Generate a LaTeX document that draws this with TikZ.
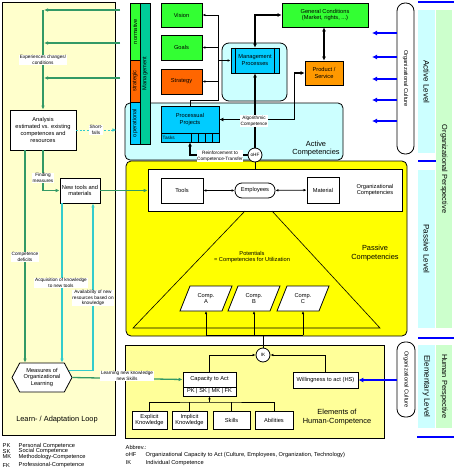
\documentclass[tikz,border=0pt]{standalone}
\usepackage{fontspec}
\setmainfont{Liberation Sans}
\usetikzlibrary{arrows.meta,shapes.symbols,positioning}

\definecolor{cpanel}{HTML}{FFFFCC}
\definecolor{cgreen}{HTML}{339966}
\definecolor{ccyan}{HTML}{33CCCC}
\definecolor{cnorm}{HTML}{33FF33}
\definecolor{corange}{HTML}{FF6600}
\definecolor{cprod}{HTML}{FF9900}
\definecolor{cteal}{HTML}{00CC99}
\definecolor{cblue}{HTML}{00CCFF}
\definecolor{clcyan}{HTML}{CCFFFF}
\definecolor{cyellow}{HTML}{FFFF00}
\definecolor{celem}{HTML}{FFFF99}
\definecolor{cstripg}{HTML}{CCFFCC}
\definecolor{cdeep}{HTML}{0000FF}

\newcommand\txtXS{\fontsize{4.7}{5.6}\selectfont}
\newcommand\txtS{\fontsize{5.7}{6.9}\selectfont}
\newcommand\txtM{\fontsize{7.4}{8.4}\selectfont}
\newcommand\txtL{\fontsize{8}{9}\selectfont}

\begin{document}
\begin{tikzpicture}[x=1pt, y=-1pt,
    every node/.style={font=\txtS, inner sep=0.5pt, align=center},
    box/.style={draw, line width=0.8pt, inner sep=0pt},
    lbl/.style={fill=white, inner sep=0.7pt, font=\txtXS},
    gline/.style={draw=cgreen, line width=1.3pt},
    garrow/.style={gline, -{Latex[length=4pt,width=3.6pt]}},
    carrow/.style={draw=ccyan, line width=1.3pt, -{Latex[length=4pt,width=3.6pt]}},
    tline/.style={line width=1.4pt},
    smalltip/.style={line width=0.8pt, -{Latex[length=3pt,width=2.6pt]}},
    bothtips/.style={{Latex[length=4pt,width=4pt]}-{Latex[length=4pt,width=4pt]}},
    barrow/.style={draw=cdeep, line width=1.6pt, -{Latex[length=5pt,width=5pt]}},
    uplabel/.style={rotate=90},
    downlabel/.style={rotate=-90}]
  \useasboundingbox (0,0) rectangle (454,471);
  \fill[white] (0,0) rectangle (454,471);

  % learn / adaptation loop
  \draw[fill=cpanel, line width=0.8pt] (2,2) rectangle (115,435);
  \node[font=\txtM] (loop) at (57,420) {Learn- / Adaptation Loop};

  % competence levels
  \draw[fill=clcyan, rounded corners=5pt, line width=0.8pt] (125,103) rectangle (343,160);
  \draw[fill=cyellow, rounded corners=5pt, line width=0.8pt] (126,161) rectangle (407,336);
  \draw[fill=celem, line width=0.8pt] (125,345) rectangle (384,438);
  \draw[fill=clcyan, rounded corners=7pt, line width=0.8pt] (222,43) rectangle (287,101);
  \node[font=\txtM] (activelbl) at (316,148.5) {Active\\Competencies};
  \node[font=\txtM] (passivelbl) at (375,253) {Passive\\Competencies};
  \node[font=\txtM] (elemlbl) at (337,417) {Elements of\\Human-Competence};

  % management bar
  \draw[fill=cnorm, line width=0.8pt] (130,3) rectangle (140,60);
  \draw[fill=corange, line width=0.8pt] (130,60) rectangle (140,102);
  \draw[fill=cblue, line width=0.8pt] (130,102) rectangle (140,144);
  \draw[fill=cteal, line width=0.8pt] (140,3) rectangle (150,144);
  \node[uplabel] (normative) at (135,31.5) {normative};
  \node[uplabel] (strategic) at (135,81) {strategic};
  \node[uplabel] (operational) at (135,123) {operational};
  \node[uplabel] (management) at (145,73.5) {Management};

  % active level
  \node[box, fill=cnorm, minimum width=41pt, minimum height=24pt] (vision) at (181.5,15) {Vision};
  \node[box, fill=cnorm, minimum width=41pt, minimum height=25pt] (goals) at (181.5,47.5) {Goals};
  \node[box, fill=corange, minimum width=41pt, minimum height=25pt] (strategy) at (181.5,81.5) {Strategy};
  \node[box, fill=cnorm, minimum width=86pt, minimum height=24pt] (gencond) at (325,15) {General Conditions\\(Market, rights, ...)};
  \node[box, fill=cprod, minimum width=38pt, minimum height=24pt] (product) at (324,73) {Product /\\Service};
  \node[box, fill=cblue, minimum width=48pt, minimum height=25pt] (mproc) at (255,60.5) {Management\\Processes};
  \draw[line width=0.8pt] ([xshift=5pt]mproc.north west) -- ([xshift=5pt]mproc.south west);
  \draw[line width=0.8pt] ([xshift=-5pt]mproc.north east) -- ([xshift=-5pt]mproc.south east);
  \node[box, fill=cblue, minimum width=58pt, minimum height=27pt] (projects) at (190,119.5) {Processual\\Projects};
  \node[box, fill=cblue, minimum width=58pt, minimum height=9pt] (tasks) at (190,137.5) {};
  \node[anchor=west, font=\txtXS] (taskslbl) at (162,137.5) {Tasks};
  \foreach \tx in {191,198,205,212}
    \draw[line width=0.8pt] (\tx,133) -- (\tx,142);
  \node[draw, circle, fill=white, line width=0.8pt, minimum size=14pt, inner sep=0pt, font=\txtXS] (ohf) at (255,155) {oHF};

  \coordinate (mbus) at (218,100);
  \draw[line width=0.8pt] (vision.east -| mbus) -- (mbus) -| (projects.north);
  \draw[smalltip] (vision.east -| mbus) -- (vision.east);
  \draw[smalltip] (goals.east -| mbus) -- (goals.east);
  \draw[smalltip] (strategy.east -| mbus) -- (strategy.east);
  \draw[smalltip] (mproc.west -| mbus) -- (mproc.west);

  \draw[tline, bothtips] (mproc.north) |- (gencond.west);
  \draw[tline, bothtips] (gencond.south -| product.north) -- (product.north);
  \draw[tline, bothtips] (projects.east) -| ([xshift=-10pt]product.west) -- (product.west);
  \draw[tline, -{Latex[length=4pt,width=4pt]}] (ohf.north) -- (mproc.south);
  \draw[tline, -{Latex[length=4pt,width=4pt]}] (ohf.west) -| (tasks.south);
  \node[lbl] (algolbl) at (254,121) {Algorithmic\\Competence};
  \node[lbl] (reinflbl) at (220,156) {Reinforcement to\\Competence-Transfer};

  % passive level
  \node[box, fill=white, minimum width=254pt, minimum height=42pt] (orgcomp) at (275,190) {};
  \node (orgcomplbl) at (375,190) {Organizational\\Competencies};
  \node[box, fill=white, minimum width=42pt, minimum height=25pt] (tools) at (182,190.5) {Tools};
  \node[box, fill=white, rounded corners=7pt, minimum width=40pt, minimum height=15pt] (employees) at (255,190.5) {Employees};
  \node[box, fill=white, minimum width=32pt, minimum height=26pt] (material) at (323,190) {Material};
  \draw[line width=0.8pt, {Latex[length=3pt,width=2.6pt]}-{Latex[length=3pt,width=2.6pt]}] (tools) -- (employees);
  \draw[line width=0.8pt, {Latex[length=3pt,width=2.6pt]}-{Latex[length=3pt,width=2.6pt]}] (employees) -- (material);
  \draw[line width=0.8pt] (ohf.south) -- (ohf.south |- orgcomp.north);

  \draw[line width=0.6pt] (245,211) -- (133,328) -- (380,328) -- (272,211);
  \node (potentials) at (252,257) {Potentials\\= Competencies for Utilization};

  \coordinate (cjoin) at (263,335);
  \foreach \cx/\cl in {206/A,254/B,303/C} {
    \draw[fill=white, line width=0.8pt] (\cx-26,311) -- (\cx-16,286) -- (\cx+26,286) -- (\cx+16,311) -- cycle;
    \node (comp\cl) at (\cx,298.5) {Comp.\\\cl};
    \draw[smalltip] (\cx,335) -- (\cx,311);
  }
  \draw[line width=0.8pt] (206,335) -- (303,335);

  % elementary level
  \node[draw, circle, fill=white, line width=0.8pt, minimum size=14pt, inner sep=0pt, font=\txtXS] (ik) at (263,355) {IK};
  \draw[line width=0.8pt] (cjoin) -- (ik.north);
  \node[box, fill=white, minimum width=53pt, minimum height=15pt] (capacity) at (209.5,379.5) {Capacity to Act};
  \node[box, fill=white, minimum width=53pt, minimum height=9pt] (capparts) at (209.5,391.5) {PK \textbar{} SK \textbar{} MK \textbar{} FK};
  \node[box, fill=white, minimum width=65pt, minimum height=16pt] (willing) at (325.5,380) {Willingness to act (HS)};
  \draw[smalltip] (capacity.north) |- (ik.west);
  \draw[smalltip] (willing.north) |- (ik.east);

  \node[box, fill=white, minimum width=35pt, minimum height=18pt] (explicit) at (149.5,420) {Explicit\\Knowledge};
  \node[box, fill=white, minimum width=35pt, minimum height=18pt] (implicit) at (189.5,420) {Implicit\\Knowledge};
  \node[box, fill=white, minimum width=37pt, minimum height=18pt] (skills) at (231.5,420) {Skills};
  \node[box, fill=white, minimum width=38pt, minimum height=18pt] (abilities) at (274,420) {Abilities};
  \coordinate (kjoin) at (209.5,402);
  \draw[line width=0.8pt] (explicit.north) |- (kjoin) -| (abilities.north);
  \draw[line width=0.8pt] (implicit.north) -- (implicit.north |- kjoin);
  \draw[line width=0.8pt] (skills.north) -- (skills.north |- kjoin);
  \draw[smalltip] (kjoin) -- (capparts.south);

  % organizational culture
  \node[draw, fill=white, line width=0.8pt, rounded corners=8pt, minimum width=17pt, minimum height=151pt] (culture) at (405.5,78.5) {};
  \node[downlabel] (culturelbl) at (culture) {Organizational Culture};
  \node[draw, fill=white, line width=0.8pt, rounded corners=8pt, minimum width=18pt, minimum height=75pt] (culturelow) at (406,379.5) {};
  \node[downlabel] (culturelowlbl) at (culturelow) {Organizational Culture};
  \foreach \by in {33,57,79,100,121}
    \draw[barrow] (397,\by) -- (372,\by);
  \draw[barrow] (culturelow.west |- willing.east) -- (willing.east);

  % levels and perspectives
  \fill[clcyan] (418,10) rectangle (435,153);
  \fill[clcyan] (418,170) rectangle (435,328);
  \fill[clcyan] (418,345) rectangle (435,428);
  \fill[cstripg] (436,10) rectangle (452,328);
  \fill[cstripg] (436,345) rectangle (452,428);
  \node[downlabel, font=\txtL] (activelvl) at (426.5,82) {Active Level};
  \node[downlabel, font=\txtL] (passivelvl) at (426.5,249) {Passive Level};
  \node[downlabel, font=\txtL] (elemlvl) at (426.5,386.5) {Elementary Level};
  \node[downlabel, font=\txtM] (orgpersp) at (444,169) {Organizational Perspective};
  \node[downlabel, font=\txtM] (humpersp) at (444,386.5) {Human Perspective};
  \draw[cdeep, line width=1.5pt] (418,2) -- (454,2);
  \draw[cdeep, line width=1.5pt] (418,161) -- (436,161);
  \draw[cdeep, line width=1.5pt] (418,338) -- (454,338);
  \draw[cdeep, line width=1.5pt] (417,437) -- (454,437);

  % learning loop
  \node[box, fill=white, minimum width=66pt, minimum height=40pt] (analysis) at (43,130) {Analysis\\estimated vs. existing\\competences and\\resources};
  \node[box, fill=white, minimum width=40pt, minimum height=25pt] (newtools) at (80,190.5) {New tools and\\materials};
  \node[draw, fill=white, line width=0.8pt, signal, signal to=west and east, signal pointer angle=124, minimum width=60pt, minimum height=29pt, inner sep=0pt] (measures) at (42,377.5) {Measures of\\Organizational\\Learning};

  \foreach \ly in {10,43,78}
    \draw[garrow] (120,\ly) -- (44,\ly);
  \draw[garrow] (43,10) -- (analysis.north);
  \draw[draw=ccyan, line width=1pt, dash pattern=on 2pt off 1.5pt, -{Latex[length=4pt,width=3.6pt]}] (analysis.east) -- ([xshift=40pt]analysis.east);
  \draw[garrow] ([xshift=-18pt]analysis.south) -- ([xshift=-18pt]analysis.south |- measures.north);
  \draw[garrow] (analysis.south) |- (newtools.west);
  \draw[garrow] (newtools.east) -- (orgcomp.west |- newtools.east);
  \draw[carrow] ([xshift=-18pt]newtools.south) -- ([xshift=-18pt]newtools.south |- measures.north);
  \draw[carrow] (measures.15) -| ([xshift=13pt]newtools.south);
  \draw[garrow] (measures.east) -- (capacity.west);

  \node[lbl] (experlbl) at (43,60) {Experiences changes/\\conditions};
  \node[lbl] (shortlbl) at (96,130) {Short-\\falls};
  \node[lbl] (findlbl) at (43,178) {Finding\\measures};
  \node[lbl] (deficitlbl) at (25,257) {Competence\\deficits};
  \node[lbl] (acquilbl) at (61,283) {Acquisition of knowledge\\to new tools};
  \node[lbl] (availlbl) at (93,298) {Availability of new\\resources based on\\knowledge};
  \node[lbl] (learnlbl) at (127,376) {Learning new knowledge\\new Skills};

  % legend
  \foreach \ab/\tx/\ly in {PK/Personal Competence/446, SK/Social Competence/451.5, MK/Methodology-Competence/457, FK/Professional-Competence/465.5} {
    \node[anchor=west, font=\txtS] (ab\ab) at (2,\ly) {\ab};
    \node[anchor=west, font=\txtS] (tx\ab) at (18,\ly) {\tx};
  }
  \node[anchor=west, font=\txtS] (abbrev) at (125,447) {Abbrev.:};
  \node[anchor=west, font=\txtS] (abohf) at (125,455) {oHF};
  \node[anchor=west, font=\txtS] (txohf) at (145,455) {Organizational Capacity to Act (Culture, Employees, Organization, Technology)};
  \node[anchor=west, font=\txtS] (abik) at (125,463) {IK};
  \node[anchor=west, font=\txtS] (txik) at (145,463) {Individual Competence};
\end{tikzpicture}
\end{document}
